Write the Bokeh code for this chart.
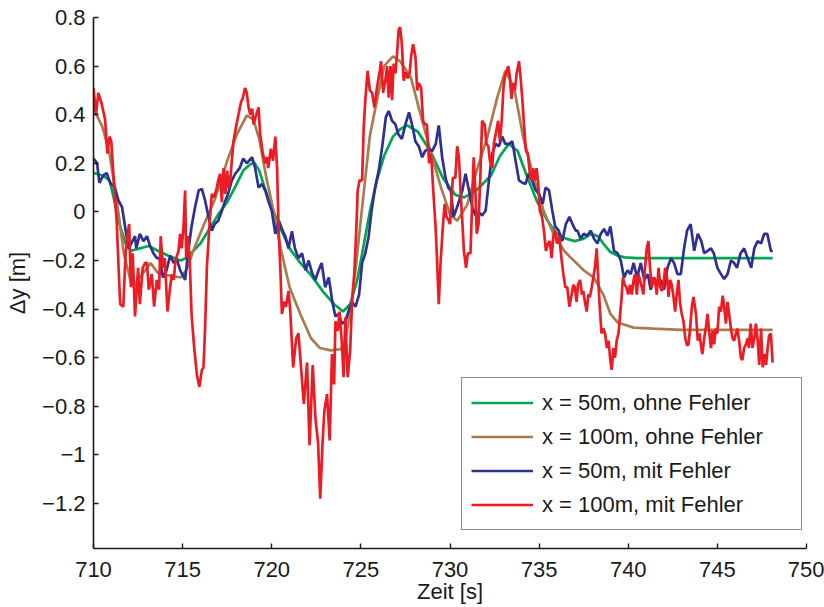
from bokeh.plotting import figure
from bokeh.models import Range1d, FixedTicker, CustomJSTickFormatter
from bokeh.embed import file_html
from bokeh.resources import INLINE

# ---------------- data ----------------
x_ticks = [710, 715, 720, 725, 730, 735, 740, 745, 750]
y_ticks = [0.8, 0.6, 0.4, 0.2, 0.0, -0.2, -0.4, -0.6, -0.8, -1.0, -1.2]

# x = 50m, ohne Fehler (green)
t_green = [710, 710.5, 710.9, 711.1, 711.3, 711.5, 711.8, 712.1, 712.6, 713.1, 713.6, 714.2, 714.9,
           715.2, 715.6, 716.0, 716.5, 717.0, 717.5, 718.0, 718.4, 718.7, 719.0, 719.3, 719.6, 720.0,
           720.5, 721.0, 721.6, 722.2, 722.9, 723.5, 724.0, 724.4, 724.8, 725.15, 725.5, 725.9, 726.3,
           726.8, 727.2, 727.6, 728.2, 728.9, 729.6, 730.3, 730.8, 731.5, 732.3, 732.8, 733.3, 733.8,
           734.3, 734.9, 735.5, 736.0, 736.5, 737.0, 737.5, 737.9, 738.3, 738.6, 739.0, 739.4, 739.8,
           740.5, 742.0, 744.0, 746.0, 748.1]
y_green = [0.16, 0.15, 0.13, 0.07, 0.0, -0.06, -0.13, -0.16, -0.15, -0.14, -0.16, -0.18, -0.20,
           -0.19, -0.16, -0.13, -0.07, -0.01, 0.04, 0.11, 0.17, 0.19, 0.205, 0.17, 0.10, 0.02,
           -0.07, -0.15, -0.21, -0.26, -0.33, -0.38, -0.41, -0.38, -0.28, -0.14, 0.0, 0.13, 0.23,
           0.31, 0.34, 0.356, 0.33, 0.25, 0.14, 0.07, 0.06, 0.09, 0.15, 0.23, 0.28, 0.25,
           0.15, 0.04, -0.04, -0.09, -0.11, -0.12, -0.11, -0.09, -0.10, -0.13, -0.165, -0.18, -0.187,
           -0.19, -0.19, -0.19, -0.19, -0.19]

# x = 100m, ohne Fehler (brown)
t_brown = [710, 710.5, 710.9, 711.3, 711.7, 712.1, 712.3, 712.8, 713.2, 713.6, 714.1, 714.9, 715.2,
           715.6, 716.15, 716.8, 717.5, 718.05, 718.6, 718.97, 719.3, 719.7, 720.1, 720.5, 721.0,
           721.6, 722.2, 722.7, 723.3, 723.85, 724.1, 724.4, 724.7, 724.97, 725.25, 725.5, 725.9,
           726.3, 726.8, 727.2, 727.8, 728.3, 728.9, 729.5, 730.0, 730.4, 730.97, 731.5, 732.1,
           732.65, 733.1, 733.6, 734.1, 734.7, 735.25, 735.8, 736.4, 736.8, 737.5, 738.07, 738.6,
           739.0, 739.4, 740.3, 741.4, 743.0, 745.0, 748.1]
y_brown = [0.425, 0.35, 0.24, 0.05, -0.17, -0.29, -0.30, -0.25, -0.21, -0.25, -0.26, -0.27, -0.24,
           -0.16, -0.06, 0.05, 0.21, 0.32, 0.397, 0.38, 0.30, 0.14, 0.005, -0.15, -0.31,
           -0.42, -0.52, -0.56, -0.57, -0.565, -0.54, -0.41, -0.24, -0.05, 0.14, 0.31, 0.46,
           0.60, 0.64, 0.62, 0.555, 0.415, 0.25, 0.10, -0.01, -0.036, 0.03, 0.17, 0.31,
           0.47, 0.58, 0.51, 0.31, 0.14, 0.005, -0.09, -0.16, -0.19, -0.24, -0.27, -0.34,
           -0.42, -0.455, -0.476, -0.48, -0.485, -0.485, -0.485]

# x = 50m, mit Fehler (blue)
t_blue = [710.0, 710.2, 710.33, 710.55, 710.74, 710.93, 711.2, 711.4, 711.6, 711.77, 711.96, 712.15,
          712.33, 712.4, 712.6, 712.8, 713.0, 713.17, 713.36, 713.55, 713.7, 713.9, 714.1, 714.3,
          714.5, 714.7, 714.86, 715.14, 715.3, 715.5, 715.7, 715.9, 716.08, 716.26, 716.45, 716.64,
          716.8, 717.0, 717.2, 717.4, 717.55, 717.76, 717.95, 718.2, 718.4, 718.6, 718.9, 719.07,
          719.26, 719.45, 719.64, 719.8, 720.0, 720.2, 720.4, 720.57, 720.76, 720.94, 721.13, 721.3,
          721.5, 721.7, 721.9, 722.07, 722.26, 722.44, 722.63, 722.8, 723.0, 723.2, 723.4, 723.57,
          723.75, 723.94, 724.13, 724.3, 724.5, 724.7, 724.9, 725.07, 725.25, 725.44, 725.6, 725.8,
          726.0, 726.2, 726.4, 726.56, 726.75, 726.94, 727.1, 727.3, 727.5, 727.7, 727.9, 728.06,
          728.25, 728.44, 728.6, 728.8, 729.0, 729.2, 729.37, 729.56, 729.75, 729.9, 730.05, 730.2,
          730.4, 730.7, 730.87, 731.06, 731.25, 731.43, 731.6, 731.8, 732.0, 732.2, 732.37, 732.56,
          732.74, 732.93, 733.1, 733.3, 733.5, 733.68, 733.87, 734.06, 734.24, 734.4, 734.6, 734.8,
          735.0, 735.2, 735.36, 735.55, 735.74, 735.9, 736.1, 736.3, 736.5, 736.7, 736.87, 737.05,
          737.15, 737.33, 737.5, 737.7, 737.9, 738.08, 738.27, 738.46, 738.64, 738.83, 739.0, 739.2,
          739.4, 739.58, 739.76, 739.96, 740.14, 740.3, 740.5, 740.7, 740.9, 741.1, 741.26, 741.45,
          741.64, 741.83, 742.0, 742.2, 742.4, 742.57, 742.76, 742.95, 743.13, 743.3, 743.5, 743.7,
          743.9, 744.1, 744.26, 744.45, 744.64, 744.8, 745.0, 745.2, 745.38, 745.57, 745.76, 745.94,
          746.1, 746.3, 746.5, 746.7, 746.9, 747.07, 747.26, 747.45, 747.63, 747.8, 748.0, 748.1]
y_blue = [0.22, 0.20, 0.12, 0.15, 0.16, 0.12, 0.10, 0.047, 0.02, -0.06, -0.15, -0.125,
          -0.10, -0.15, -0.09, -0.12, -0.10, -0.14, -0.17, -0.19, -0.19, -0.27, -0.24, -0.18,
          -0.21, -0.20, -0.24, -0.28, -0.17, -0.06, 0.02, 0.088, 0.095, 0.047, -0.02, -0.077,
          -0.05, -0.036, 0.005, 0.047, 0.075, 0.13, 0.157, 0.18, 0.22, 0.20, 0.225, 0.18,
          0.10, 0.115, 0.088, 0.047, 0.005, -0.09, -0.036, -0.07, -0.10, -0.15, -0.08, -0.15,
          -0.19, -0.17, -0.24, -0.20, -0.25, -0.28, -0.24, -0.21, -0.31, -0.27, -0.37, -0.43,
          -0.42, -0.46, -0.45, -0.41, -0.37, -0.39, -0.34, -0.21, -0.17, -0.10, 0.005, 0.10,
          0.17, 0.27, 0.39, 0.415, 0.375, 0.36, 0.32, 0.30, 0.36, 0.41, 0.35, 0.29,
          0.27, 0.225, 0.25, 0.26, 0.25, 0.28, 0.356, 0.225, 0.14, 0.10, 0.088, -0.02,
          0.02, 0.09, 0.157, 0.09, 0.02, -0.015, 0.0, -0.015, 0.005, 0.14, 0.24, 0.28,
          0.27, 0.31, 0.28, 0.28, 0.29, 0.21, 0.13, 0.12, 0.115, 0.157, 0.13, 0.09,
          0.074, 0.033, 0.10, 0.09, 0.005, -0.06, -0.077, -0.12, -0.05, -0.02, -0.05, -0.077,
          -0.077, -0.11, -0.09, -0.098, -0.077, -0.11, -0.13, -0.09, -0.07, -0.098, -0.06, -0.16,
          -0.17, -0.20, -0.27, -0.24, -0.256, -0.21, -0.27, -0.21, -0.28, -0.256, -0.32, -0.27,
          -0.30, -0.28, -0.32, -0.23, -0.19, -0.21, -0.256, -0.256, -0.15, -0.077, -0.05, -0.16,
          -0.09, -0.12, -0.17, -0.16, -0.15, -0.17, -0.23, -0.256, -0.276, -0.256, -0.20, -0.21,
          -0.23, -0.17, -0.15, -0.19, -0.23, -0.15, -0.12, -0.13, -0.09, -0.09, -0.16, -0.163]

# x = 100m, mit Fehler (red)
t_red = [710.0, 710.14, 710.27, 710.46, 710.65, 710.78, 710.9, 711.0, 711.15, 711.3, 711.43, 711.5,
         711.67, 711.8, 711.9, 712.0, 712.1, 712.2, 712.33, 712.5, 712.6, 712.76, 712.9, 713.0,
         713.1, 713.27, 713.4, 713.55, 713.68, 713.77, 713.9, 714.0, 714.15, 714.3, 714.4, 714.5,
         714.6, 714.77, 714.86, 714.95, 715.05, 715.14, 715.2, 715.3, 715.4, 715.5, 715.65, 715.8,
         715.94, 716.08, 716.17, 716.26, 716.36, 716.5, 716.64, 716.77, 716.92, 717.0, 717.1, 717.2,
         717.3, 717.4, 717.5, 717.57, 717.67, 717.85, 718.0, 718.13, 718.27, 718.38, 718.5, 718.6,
         718.7, 718.8, 718.9, 718.98, 719.13, 719.26, 719.35, 719.5, 719.63, 719.73, 719.8, 719.95,
         720.07, 720.2, 720.3, 720.38, 720.48, 720.57, 720.7, 720.8, 720.94, 721.04, 721.2, 721.37,
         721.5, 721.6, 721.8, 721.98, 722.12, 722.3, 722.45, 722.6, 722.72, 722.85, 722.95, 723.1,
         723.25, 723.38, 723.5, 723.57, 723.7, 723.8, 723.94, 724.03, 724.13, 724.26, 724.4, 724.5,
         724.64, 724.75, 724.82, 724.93, 725.07, 725.16, 725.25, 725.38, 725.5, 725.63, 725.76, 725.9,
         726.06, 726.13, 726.25, 726.4, 726.47, 726.56, 726.66, 726.75, 726.84, 726.94, 727.03, 727.12,
         727.2, 727.3, 727.4, 727.52, 727.63, 727.74, 727.82, 727.93, 728.06, 728.16, 728.25, 728.38,
         728.49, 728.6, 728.7, 728.83, 728.94, 729.06, 729.19, 729.28, 729.37, 729.47, 729.6, 729.7,
         729.8, 729.93, 730.0, 730.06, 730.16, 730.3, 730.4, 730.5, 730.6, 730.7, 730.78, 730.9,
         731.0, 731.15, 731.25, 731.33, 731.43, 731.5, 731.6, 731.7, 731.8, 731.94, 732.05, 732.15,
         732.24, 732.37, 732.46, 732.6, 732.7, 732.8, 732.9, 733.0, 733.08, 733.17, 733.27, 733.36,
         733.45, 733.55, 733.64, 733.74, 733.87, 733.96, 734.06, 734.15, 734.26, 734.37, 734.48, 734.58,
         734.67, 734.76, 734.86, 734.95, 735.04, 735.16, 735.27, 735.38, 735.5, 735.6, 735.7, 735.8,
         735.9, 736.0, 736.13, 736.25, 736.36, 736.47, 736.58, 736.7, 736.8, 736.92, 737.0, 737.1,
         737.18, 737.3, 737.4, 737.48, 737.57, 737.67, 737.76, 737.85, 737.95, 738.04, 738.13, 738.23,
         738.32, 738.4, 738.5, 738.6, 738.7, 738.8, 738.9, 738.98, 739.07, 739.17, 739.26, 739.35,
         739.45, 739.5, 739.63, 739.7, 739.8, 739.9, 740.0, 740.1, 740.2, 740.3, 740.38, 740.48,
         740.57, 740.66, 740.76, 740.85, 740.94, 741.04, 741.13, 741.22, 741.32, 741.4, 741.5, 741.6,
         741.7, 741.8, 741.88, 741.98, 742.07, 742.16, 742.26, 742.35, 742.44, 742.54, 742.63, 742.72,
         742.82, 742.9, 743.0, 743.1, 743.2, 743.3, 743.38, 743.47, 743.57, 743.66, 743.8, 743.9,
         744.0, 744.1, 744.16, 744.26, 744.35, 744.45, 744.55, 744.64, 744.73, 744.82, 744.9, 745.0,
         745.1, 745.2, 745.3, 745.38, 745.48, 745.57, 745.66, 745.76, 745.85, 745.94, 746.04, 746.13,
         746.22, 746.32, 746.4, 746.5, 746.6, 746.7, 746.77, 746.87, 746.97, 747.07, 747.16, 747.26,
         747.35, 747.45, 747.54, 747.63, 747.73, 747.82, 747.9, 748.0, 748.1]
y_red = [0.51, 0.40, 0.49, 0.445, 0.38, 0.24, 0.31, 0.29, 0.115, -0.036, -0.27, -0.38,
         -0.39, -0.17, -0.10, -0.05, -0.31, -0.17, -0.43, -0.23, -0.38, -0.23, -0.21, -0.21,
         -0.32, -0.256, -0.39, -0.28, -0.32, -0.10, -0.23, -0.19, -0.41, -0.31, -0.256, -0.28,
         -0.20, -0.16, -0.09, -0.15, -0.06, 0.088, -0.19, -0.10, -0.20, -0.42, -0.56, -0.67,
         -0.72, -0.65, -0.64, -0.48, -0.23, -0.06, 0.074, 0.06, 0.10, 0.13, 0.157, 0.04,
         0.18, 0.074, 0.17, 0.10, 0.13, 0.29, 0.35, 0.40, 0.45, 0.47, 0.51, 0.49,
         0.43, 0.40, 0.425, 0.36, 0.40, 0.43, 0.32, 0.24, 0.20, 0.225, 0.18, 0.26,
         0.21, 0.31, 0.18, -0.06, -0.23, -0.42, -0.37, -0.39, -0.325, -0.41, -0.64, -0.52,
         -0.50, -0.60, -0.79, -0.62, -0.96, -0.63, -0.85, -0.95, -1.18, -0.95, -0.82, -0.75,
         -0.94, -0.585, -0.71, -0.45, -0.49, -0.41, -0.545, -0.68, -0.435, -0.68, -0.57, -0.38,
         -0.24, -0.06, 0.088, 0.13, 0.13, 0.35, 0.46, 0.58, 0.50, 0.49, 0.43, 0.51,
         0.58, 0.62, 0.49, 0.555, 0.60, 0.47, 0.60, 0.46, 0.61, 0.57, 0.65, 0.75,
         0.76, 0.69, 0.54, 0.575, 0.55, 0.575, 0.64, 0.69, 0.64, 0.50, 0.53, 0.51,
         0.375, 0.36, 0.36, 0.20, 0.24, 0.088, -0.06, -0.21, -0.38, -0.21, -0.06, 0.033,
         -0.02, -0.036, -0.05, 0.02, 0.14, 0.14, 0.27, 0.225, 0.074, -0.05, -0.16, -0.23,
         -0.17, -0.17, 0.06, 0.225, 0.074, -0.09, -0.05, 0.14, 0.375, 0.36, 0.28, 0.27,
         0.21, 0.18, 0.28, 0.335, 0.375, 0.29, 0.375, 0.51, 0.555, 0.58, 0.60, 0.555,
         0.465, 0.53, 0.50, 0.57, 0.62, 0.555, 0.46, 0.36, 0.25, 0.24, 0.157, 0.13,
         0.18, 0.13, 0.18, 0.115, 0.005, -0.02, -0.077, -0.16, -0.13, -0.12, -0.19, -0.10,
         -0.077, -0.13, -0.10, -0.19, -0.256, -0.31, -0.31, -0.39, -0.35, -0.30, -0.31, -0.37,
         -0.30, -0.28, -0.34, -0.325, -0.37, -0.41, -0.34, -0.35, -0.31, -0.27, -0.23, -0.15,
         -0.28, -0.39, -0.50, -0.48, -0.50, -0.56, -0.53, -0.60, -0.65, -0.56, -0.60, -0.53,
         -0.50, -0.46, -0.35, -0.27, -0.30, -0.31, -0.34, -0.30, -0.34, -0.28, -0.256, -0.34,
         -0.256, -0.28, -0.31, -0.34, -0.23, -0.15, -0.12, -0.23, -0.31, -0.27, -0.28, -0.34,
         -0.23, -0.31, -0.325, -0.30, -0.23, -0.256, -0.35, -0.28, -0.30, -0.35, -0.41, -0.34,
         -0.28, -0.37, -0.42, -0.45, -0.52, -0.55, -0.545, -0.48, -0.39, -0.35, -0.42, -0.53,
         -0.50, -0.56, -0.585, -0.52, -0.48, -0.42, -0.50, -0.56, -0.49, -0.545, -0.48, -0.50,
         -0.39, -0.41, -0.345, -0.39, -0.46, -0.37, -0.42, -0.48, -0.52, -0.53, -0.50, -0.48,
         -0.53, -0.60, -0.61, -0.56, -0.545, -0.52, -0.56, -0.46, -0.56, -0.52, -0.46, -0.53,
         -0.63, -0.48, -0.64, -0.585, -0.63, -0.56, -0.51, -0.50, -0.62]

labels = ["x = 50m, ohne Fehler", "x = 100m, ohne Fehler",
          "x = 50m, mit Fehler", "x = 100m, mit Fehler"]
colors = ["#00a651", "#a97c50", "#2e3192", "#ed1c24"]

# ---------------- figure ----------------
FONT = "Liberation Sans"
FS = "22px"

p = figure(width=824, height=607, output_backend="svg", toolbar_location=None,
           x_range=Range1d(710, 750), y_range=Range1d(-1.385, 0.8),
           min_border_left=93, min_border_right=18, min_border_top=17, min_border_bottom=59)
p.outline_line_color = None
p.background_fill_color = "white"
p.border_fill_color = "white"
p.xgrid.visible = False
p.ygrid.visible = False

series = [(t_green, y_green), (t_brown, y_brown), (t_blue, y_blue), (t_red, y_red)]
for (tt, yy), lab, col in zip(series, labels, colors):
    p.line(tt, yy, line_color=col, line_width=2.7, legend_label=lab)

for ax in (p.xaxis[0], p.yaxis[0]):
    ax.axis_line_color = "#1a1a1a"
    ax.axis_line_width = 1.6
    ax.major_tick_line_color = "#1a1a1a"
    ax.major_tick_line_width = 1.4
    ax.major_tick_in = 5
    ax.major_tick_out = 0
    ax.minor_tick_line_color = None
    ax.major_label_text_font = FONT
    ax.major_label_text_font_size = FS
    ax.major_label_text_color = "#1a1a1a"
    ax.axis_label_text_font = FONT
    ax.axis_label_text_font_size = FS
    ax.axis_label_text_font_style = "normal"
    ax.axis_label_text_color = "#1a1a1a"

p.xaxis.ticker = FixedTicker(ticks=x_ticks)
p.yaxis.ticker = FixedTicker(ticks=y_ticks)
p.yaxis.formatter = CustomJSTickFormatter(code="""
const v = Math.round(tick*10)/10;
const s = Math.abs(v).toString();
return v < 0 ? '\u2212' + s : s;
""")
p.xaxis.axis_label = "Zeit [s]"
p.yaxis.axis_label = "\u0394y [m]"
p.xaxis.major_label_standoff = 13
p.yaxis.major_label_standoff = 8
p.xaxis.axis_label_standoff = -1
p.yaxis.axis_label_standoff = 9

lg = p.legend[0]
lg.location = (368, 18)
lg.border_line_color = "#1a1a1a"
lg.border_line_width = 1.2
lg.background_fill_color = "white"
lg.background_fill_alpha = 1.0
lg.label_text_font = FONT
lg.label_text_font_size = FS
lg.label_text_color = "#1a1a1a"
lg.glyph_width = 62
lg.glyph_height = 31
lg.label_height = 31
lg.label_width = 250
lg.label_standoff = 9
lg.spacing = 3
lg.padding = 9
lg.margin = 0

open("out.html", "w").write(file_html(p, INLINE))
